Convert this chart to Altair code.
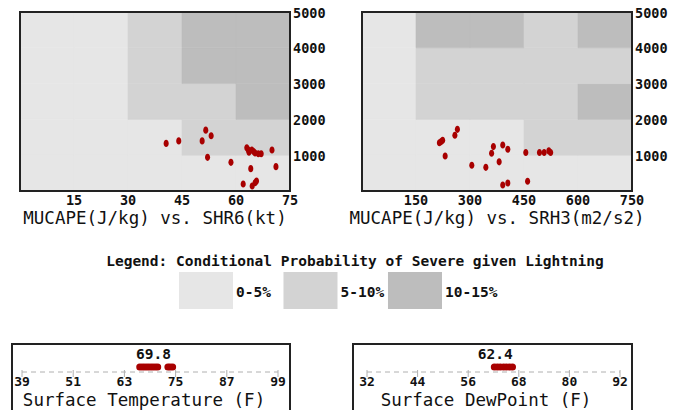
import altair as alt
import pandas as pd

# ---------------- data ----------------
shr6 = [40.6, 44.1, 50.6, 51.6, 53.1, 52.1, 58.6, 63.0, 63.6, 64.4, 63.4, 64.9,
        65.3, 66.2, 67.0, 70.0, 71.1, 64.1, 62.0, 64.5, 65.3, 65.7]
cape1 = [1330, 1400, 1400, 1700, 1545, 940, 800, 1210, 1080, 1145, 1150, 1100,
         1060, 1040, 1040, 1145, 680, 624, 196, 140, 232, 279]

srh3 = [215, 224, 220, 258, 265, 231, 305, 344, 360, 365, 381, 391, 405, 391,
        405, 455, 460, 493, 506, 519, 524]
cape2 = [1350, 1420, 1380, 1556, 1722, 980, 720, 660, 1056, 1240, 814, 1286,
         1167, 167, 222, 1075, 270, 1075, 1075, 1120, 1075]

cape_bins = [0, 1000, 2000, 3000, 4000, 5000]
shr6_bins = [0, 15, 30, 45, 60, 75]
srh3_bins = [0, 150, 300, 450, 600, 750]

# probability class per cell, rows = CAPE bins (bottom->top), cols = x bins
grid1 = [[0, 0, 0, 0, 0],
         [0, 0, 0, 1, 1],
         [0, 0, 1, 1, 2],
         [0, 0, 1, 2, 2],
         [0, 0, 1, 2, 2]]
grid2 = [[0, 0, 0, 0, 0],
         [0, 0, 0, 1, 1],
         [0, 1, 1, 1, 2],
         [0, 1, 1, 1, 1],
         [0, 2, 2, 1, 2]]

prob_labels = ["0-5%", "5-10%", "10-15%"]
prob_colors = ["#e6e6e6", "#d3d3d3", "#bdbdbd"]

cape_ticks = [1000, 2000, 3000, 4000, 5000]
shr6_ticks = [15, 30, 45, 60, 75]
srh3_ticks = [150, 300, 450, 600, 750]

temp = [66.6, 67.2, 67.8, 68.4, 69.0, 69.6, 70.2, 70.8, 73.2, 73.7, 74.3]
temp_mean = "69.8"
temp_ticks = [39, 51, 63, 75, 87, 99]
dew = [62.2, 62.9, 63.6, 64.4, 65.1, 65.8, 66.5]
dew_mean = "62.4"
dew_ticks = [32, 44, 56, 68, 80, 92]

MONO = "DejaVu Sans Mono"
RED = "#a80000"
ELLIPSE = "M0,-1A0.72,1,0,1,1,0,1A0.72,1,0,1,1,0,-1Z"

color = alt.Color("cat:N", scale=alt.Scale(domain=prob_labels, range=prob_colors), legend=None)
stroke = alt.Stroke("cat:N", scale=alt.Scale(domain=prob_labels, range=prob_colors), legend=None)


def grid_df(xbins, grid):
    rows = []
    for i, row in enumerate(grid):
        for j, v in enumerate(row):
            rows.append({"x0": xbins[j], "x1": xbins[j + 1],
                         "y0": cape_bins[i], "y1": cape_bins[i + 1],
                         "cat": prob_labels[v]})
    return pd.DataFrame(rows)


def top_panel(xbins, grid, xs, ys, xticks, title, xrange):
    xsc = alt.Scale(domain=[xbins[0], xbins[-1]], range=xrange, nice=False, zero=False)
    ysc = alt.Scale(domain=[cape_bins[0], cape_bins[-1]], range=[183, 4], nice=False, zero=False)
    cells = alt.Chart(grid_df(xbins, grid)).mark_rect(strokeWidth=0.6).encode(
        x=alt.X("x0:Q", scale=xsc, axis=None), x2="x1:Q",
        y=alt.Y("y0:Q", scale=ysc, axis=None), y2="y1:Q",
        color=color, stroke=stroke)
    frame = alt.Chart(pd.DataFrame({"x0": [xbins[0]], "x1": [xbins[-1]],
                                    "y0": [cape_bins[0]], "y1": [cape_bins[-1]]})).mark_rect(
        fillOpacity=0, stroke="#222", strokeWidth=2).encode(
        x=alt.X("x0:Q", scale=xsc, axis=None), x2="x1:Q",
        y=alt.Y("y0:Q", scale=ysc, axis=None), y2="y1:Q")
    pts = alt.Chart(pd.DataFrame({"x": xs, "y": ys})).mark_point(
        shape=ELLIPSE, filled=True, size=50, color=RED, opacity=1).encode(
        x=alt.X("x:Q", scale=xsc, axis=None), y=alt.Y("y:Q", scale=ysc, axis=None))
    ylab = alt.Chart(pd.DataFrame({"v": cape_ticks, "lab": [str(t) for t in cape_ticks]})).mark_text(
        align="left", baseline="middle", dx=3, dy=1.5, font=MONO, fontWeight="bold", fontSize=13.5,
        color="#111").encode(
        x=alt.X(datum=xbins[-1], scale=xsc, axis=None),
        y=alt.Y("v:Q", scale=ysc, axis=None), text="lab:N")
    xlab = alt.Chart(pd.DataFrame({"v": xticks, "lab": [str(t) for t in xticks]})).mark_text(
        align="center", baseline="middle", dy=10, font=MONO, fontWeight="bold", fontSize=13.5,
        color="#111").encode(
        x=alt.X("v:Q", scale=xsc, axis=None),
        y=alt.Y(datum=cape_bins[0], scale=ysc, axis=None), text="lab:N")
    ttl = alt.Chart(pd.DataFrame({"t": [title]})).mark_text(
        align="center", baseline="middle", dy=28, font=MONO, fontSize=17.5, color="#111").encode(
        x=alt.X(datum=(xbins[0] + xbins[-1]) / 2, scale=xsc, axis=None),
        y=alt.Y(datum=cape_bins[0], scale=ysc, axis=None), text="t:N")
    return alt.layer(cells, frame, pts, ylab, xlab, ttl)


def strip(vals, mean, ticks, title, xrange, frame_x, title_x):
    xsc = alt.Scale(domain=[ticks[0], ticks[-1]], range=xrange, nice=False, zero=False)
    frame = alt.Chart(pd.DataFrame({"a": [0]})).mark_rect(
        fill="white", stroke="#222", strokeWidth=2).encode(
        x=alt.value(frame_x[0]), x2=alt.value(frame_x[1]),
        y=alt.value(336), y2=alt.value(430))
    dash = alt.Chart(pd.DataFrame({"a": [ticks[0]], "b": [ticks[-1]]})).mark_rule(
        color="#b0b0b0", strokeDash=[5, 4], strokeWidth=1).encode(
        x=alt.X("a:Q", scale=xsc, axis=None), x2="b:Q", y=alt.value(364))
    tdf = pd.DataFrame({"v": ticks, "lab": [str(t) for t in ticks]})
    tmarks = alt.Chart(tdf).mark_rule(color="#b0b0b0", strokeWidth=1).encode(
        x=alt.X("v:Q", scale=xsc, axis=None), y=alt.value(362), y2=alt.value(369))
    tlabs = alt.Chart(tdf).mark_text(
        align="center", baseline="middle", font=MONO, fontWeight="bold", fontSize=13,
        color="#111").encode(
        x=alt.X("v:Q", scale=xsc, axis=None), y=alt.value(374), text="lab:N")
    pts = alt.Chart(pd.DataFrame({"v": vals})).mark_circle(size=50, color=RED, opacity=1).encode(
        x=alt.X("v:Q", scale=xsc, axis=None), y=alt.value(359))
    mlab = alt.Chart(pd.DataFrame({"m": [float(mean)], "lab": [mean]})).mark_text(
        align="center", baseline="middle", font=MONO, fontWeight="bold", fontSize=14.5,
        color="#111").encode(
        x=alt.X("m:Q", scale=xsc, axis=None), y=alt.value(347), text="lab:N")
    ttl = alt.Chart(pd.DataFrame({"t": [title]})).mark_text(
        align="center", baseline="middle", font=MONO, fontSize=17.5, color="#111").encode(
        x=alt.value(title_x), y=alt.value(393), text="t:N")
    return alt.layer(frame, dash, tmarks, tlabs, pts, mlab, ttl)


panel1 = top_panel(shr6_bins, grid1, shr6, cape1, shr6_ticks,
                   "MUCAPE(J/kg) vs. SHR6(kt)", [12, 282])
panel2 = top_panel(srh3_bins, grid2, srh3, cape2, srh3_ticks,
                   "MUCAPE(J/kg) vs. SRH3(m2/s2)", [354, 624])

lsc = alt.Scale(domain=prob_labels, range=[171, 434], paddingInner=0.483, paddingOuter=0)
ldf = pd.DataFrame({"cat": prob_labels})
lboxes = alt.Chart(ldf).mark_rect().encode(
    x=alt.X("cat:N", scale=lsc, axis=None), y=alt.value(264), y2=alt.value(301), color=color)
llabs = alt.Chart(ldf).mark_text(
    align="left", baseline="middle", dx=3, font=MONO, fontWeight="bold", fontSize=14.5,
    color="#111").encode(
    x=alt.X("cat:N", scale=lsc, axis=None, bandPosition=1), y=alt.value(285), text="cat:N")
ltitle = alt.Chart(pd.DataFrame({"t": ["Legend: Conditional Probability of Severe given Lightning"]})).mark_text(
    align="center", baseline="middle", font=MONO, fontWeight="bold", fontSize=14.5,
    color="#111").encode(x=alt.value(347), y=alt.value(254), text="t:N")
legend = alt.layer(lboxes, llabs, ltitle)

strip1 = strip(temp, temp_mean, temp_ticks, "Surface Temperature (F)", [14, 270], [4, 282], 136)
strip2 = strip(dew, dew_mean, dew_ticks, "Surface DewPoint (F)", [359, 612], [345, 624], 478)

chart = alt.layer(panel1, panel2, legend, strip1, strip2).resolve_scale(
    x="independent", y="independent"
).properties(
    width=667, height=402, padding=0, autosize=alt.AutoSizeParams(type="none"),
    background="white"
).configure_view(stroke=None)

chart.save("out.html", embed_options={"renderer": "svg", "actions": False})
